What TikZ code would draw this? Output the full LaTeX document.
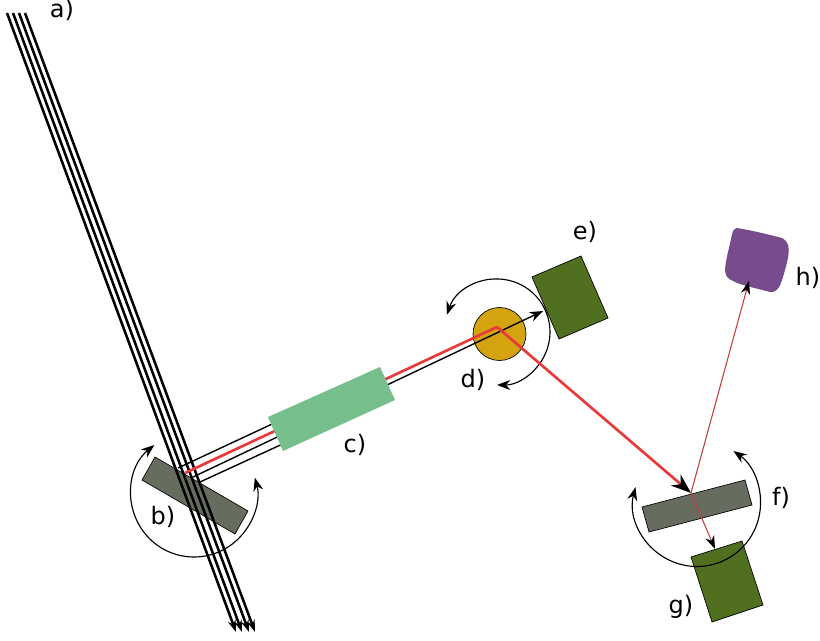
\documentclass[tikz,border=0pt]{standalone}
\usepackage{fontspec}
\setmainfont{DejaVu Sans}
\usetikzlibrary{arrows.meta}
\definecolor{rd}{HTML}{E83A3A}
\definecolor{thinrd}{HTML}{C43C3C}
\definecolor{gry}{HTML}{666D5F}
\definecolor{grn}{HTML}{506F1F}
\definecolor{mint}{HTML}{76BF8C}
\definecolor{gold}{HTML}{D4A310}
\definecolor{purp}{HTML}{784B8C}
\tikzset{
 beam/.style={line width=1.9pt,-{Stealth[black,length=9pt,width=6pt]}},
 thinbeam/.style={line width=1.05pt},
 redbeam/.style={rd,line width=2pt},
 weakbeam/.style={thinrd,line width=.8pt,-{Stealth[black,length=10pt,width=7pt]}},
 rot/.style={line width=.85pt,{Stealth[length=10pt,width=7.5pt]}-{Stealth[length=10pt,width=7.5pt]}},
 part/.style={draw=black,line width=.5pt},
 lab/.style={font=\fontsize{18}{20}\selectfont,inner sep=0pt}
}
\begin{document}
\begin{tikzpicture}[x=0.75pt,y=-0.75pt]
\useasboundingbox (0,0) rectangle (820,641);
% beam ends
\coordinate (a1s) at (7,13); \coordinate (a1e) at (236,632);
\coordinate (a2s) at (13,13); \coordinate (a2e) at (242,632);
\coordinate (a3s) at (19,13); \coordinate (a3e) at (249,632);
\coordinate (a4s) at (25,13); \coordinate (a4e) at (255,632);
\coordinate (t1) at (178,468); \coordinate (t1e) at (300,411);
\coordinate (t2) at (193,477); \coordinate (t2e) at (543,311);
\coordinate (t3) at (200,482); \coordinate (t3e) at (300,436);
\coordinate (r0) at (185,473);
\coordinate (d0) at (497,327);
\coordinate (f0) at (691,493);
\coordinate (g0) at (715,549);
\coordinate (h0) at (749,281);
% b plate
\draw[part,fill=gry] (155,457) -- (248,511) -- (235,534) -- (142,480) -- cycle;
% beams between plate and c
\draw[thinbeam] (t1) -- (t1e);
\draw[thinbeam] (t3) -- (t3e);
\draw[beam] (a1s) -- (a1e);
\draw[beam] (a2s) -- (a2e);
\draw[beam] (a3s) -- (a3e);
\draw[beam] (a4s) -- (a4e);
% rotation b
\draw[rot] (194,494) ++(231:63) arc[start angle=231,end angle=-15,radius=63];
% d
\draw[part,fill=gold] (499.5,334) circle[radius=26.5];
\draw[thinbeam,-{Stealth[length=10pt,width=7.5pt]}] (t2) -- (t2e);
\draw[redbeam] (r0) -- (d0);
% c
\fill[mint] (268,417) -- (380,367) -- (395,400) -- (283,451) -- cycle;
% e
\draw[part,fill=grn] (532,277) -- (581,256) -- (608,318) -- (559,339) -- cycle;
% rotation d
\draw[rot] (497,332) ++(199:53) arc[start angle=199,end angle=450,radius=53];
% f
\draw[part,fill=gry] (642,507) -- (745,480) -- (752,505) -- (649,532) -- cycle;
% g
\draw[part,fill=grn] (691,557) -- (742,541) -- (763,605) -- (712,622) -- cycle;
% rotation f
\draw[rot] (697,503) ++(194.5:63.5) arc[start angle=194.5,end angle=-55,radius=63.5];
% red beams
\draw[redbeam,-{Stealth[black,length=15pt,width=11pt]}] (d0) -- (f0);
\draw[weakbeam] (f0) -- (g0);
% h
\fill[purp] (737,228) .. controls (755,231) and (770,235) .. (782,238) .. controls (791,243) and (790,252) .. (785,270) .. controls (781,285) and (778,293) .. (770,292) .. controls (755,288) and (740,285) .. (733,281) .. controls (723,277) and (724,270) .. (728,252) .. controls (732,236) and (732,228) .. (737,228) -- cycle;
\draw[weakbeam] (f0) -- (h0);
% labels
\node[lab] (la) at (62,10) {a)};
\node[lab] (lb) at (163,517) {b)};
\node[lab] (lc) at (355,445) {c)};
\node[lab] (ld) at (473,380) {d)};
\node[lab] (le) at (585,232) {e)};
\node[lab] (lf) at (781,498) {f)};
\node[lab] (lg) at (681,607) {g)};
\node[lab] (lh) at (808,278) {h)};
\end{tikzpicture}
\end{document}
